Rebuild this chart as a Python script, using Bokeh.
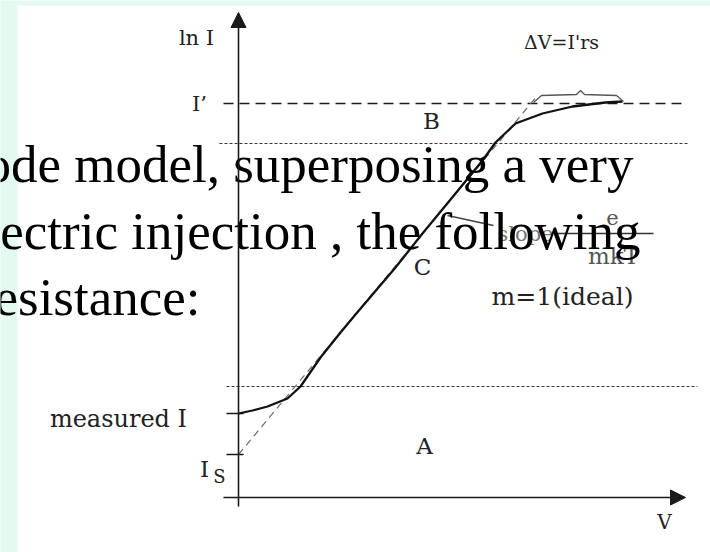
from bokeh.plotting import figure
from bokeh.models import Range1d, BoxAnnotation, Arrow, NormalHead
from bokeh.core.properties import value
from bokeh.embed import file_html
from bokeh.resources import INLINE

# Diode ln I - V characteristic (arbitrary units, origin at the axis crossing)
curve_v = [0.0, 1.4, 2.9, 4.9, 6.2, 8.2, 10.2, 11.7, 15.7, 18.4, 21.7, 24.4, 25.7, 27.7, 30.4, 33.4, 36.7, 38.4]
curve_lni = [8.4, 8.7, 9.1, 9.9, 11.1, 14.0, 16.5, 18.3, 23.0, 26.4, 30.4, 33.7, 35.5, 37.4, 38.4, 39.1, 39.5, 39.6]

# ideal (m = 1) diode line, from I_s up to I'
ideal_v = [0.0, 29.9]
ideal_lni = [4.3, 40.2]

# current levels
level_iprime = 39.4      # I'
level_b_low = 35.4       # lower edge of region B
level_a_top = 11.1       # upper edge of region A
level_measured = 8.4     # measured I at V = 0
level_is = 4.3           # saturation current I_s

# axis extents
v_axis = [-1.5, 44.7]
lni_axis = [-0.9, 48.5]

# brace marking the series-resistance drop  dV = I' r_s
brace_v = [29.5, 30.3, 33.8, 34.2, 34.6, 37.8, 38.5]
brace_lni = [39.5, 40.2, 40.3, 40.7, 40.3, 40.2, 39.6]

# leader to the slope annotation and its fraction bar
leader_v = [20.9, 25.5]
leader_lni = [28.2, 27.2]
fracbar_v = [31.9, 41.5]
fracbar_lni = [26.4, 26.4]

# slide body text lying across the diagram
body_lines = ["ode model, superposing a very", "ectric injection , the following", "esistance:"]
body_x = [39.5, 40.2, -3.8]
body_y = [33.4, 26.7, 20.1]

MINT = "#e4f9ef"
INK = "#1a1a1a"
LABEL = "#222222"
SERIF_DIAG = value("DejaVu Serif")
SERIF_BODY = value("Liberation Serif")

p = figure(width=710, height=552, output_backend="svg", toolbar_location=None,
           x_range=Range1d(-23.8, 47.2), y_range=Range1d(-5.5, 49.7),
           x_axis_location=None, y_axis_location=None,
           min_border=0, min_border_left=0, min_border_right=0,
           min_border_top=0, min_border_bottom=0)
p.grid.visible = False
p.outline_line_color = None
p.background_fill_color = MINT
p.border_fill_color = MINT

# white diagram panel
p.add_layout(BoxAnnotation(left=-22.1, top=49.2, fill_color="white", fill_alpha=1.0,
                           line_color=None, level="underlay"))

# horizontal reference levels
p.line([v_axis[0], 44.9], [level_iprime, level_iprime], line_color=INK, line_width=1.3, line_dash="10 6")
p.line([-1.9, 45.0], [level_b_low, level_b_low], line_color="#3a3a3a", line_width=1.0, line_dash="3 2")
p.line([-1.2, 45.9], [level_a_top, level_a_top], line_color="#3a3a3a", line_width=1.0, line_dash="3 2")

# ticks for measured I and I_s
for lvl in (level_measured, level_is):
    p.line([-1.2, 0.5], [lvl, lvl], line_color=INK, line_width=1.5)

# axes with arrow heads
p.add_layout(Arrow(end=NormalHead(size=15, fill_color=INK, line_color=INK),
                   x_start=0, y_start=lni_axis[0], x_end=0, y_end=lni_axis[1],
                   line_color=INK, line_width=1.6))
p.add_layout(Arrow(end=NormalHead(size=15, fill_color=INK, line_color=INK),
                   x_start=v_axis[0], y_start=0, x_end=v_axis[1], y_end=0,
                   line_color=INK, line_width=1.6))

# ideal line and measured characteristic
p.line(ideal_v, ideal_lni, line_color="#6a6a6a", line_width=1.2, line_dash="7 5")
p.line(curve_v, curve_lni, line_color="#111111", line_width=2.3)

# annotations
p.line(brace_v, brace_lni, line_color="#555555", line_width=1.3)
p.line(leader_v, leader_lni, line_color="#444444", line_width=1.3)
p.line(fracbar_v, fracbar_lni, line_color="#333333", line_width=1.3)

def label(x, y, txt, size, color=LABEL, font=SERIF_DIAG, align="center", baseline="middle"):
    p.text(x=[x], y=[y], text=[txt], text_font=font, text_font_size=size,
           text_color=color, text_align=align, text_baseline=baseline)

label(-4.2, 46.0, "ln I", "21px")
label(-3.9, 39.4, "I\u2019", "21px")
label(19.3, 37.7, "B", "23px")
label(18.4, 23.1, "C", "23px")
label(18.6, 5.2, "A", "23px")
label(32.4, 20.1, "m=1(ideal)", "25px")
label(32.3, 45.6, "\u0394V=I'rs", "19px")
label(-12.0, 7.9, "measured I", "24px")
label(-3.4, 2.9, "I", "23px")
label(-1.9, 2.1, "S", "18px")
label(42.6, -2.4, "V", "20px")
label(28.7, 26.4, "slope", "21px", color="#777777")
label(37.4, 28.0, "e", "21px", color="#555555")
label(37.5, 24.2, "mkT", "23px", color="#555555")

# slide body text over the diagram
p.text(x=body_x, y=body_y, text=body_lines, text_font=SERIF_BODY, text_font_size="53px",
       text_color="black", text_align="right", text_baseline="alphabetic")

open("out.html", "w").write(file_html(p, INLINE))
